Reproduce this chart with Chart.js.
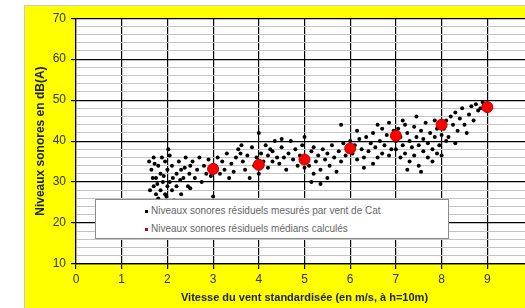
<!DOCTYPE html>
<html>
<head>
<meta charset="utf-8">
<script src="https://cdn.jsdelivr.net/npm/chart.js@4"></script>
<style>
  html, body { margin: 0; padding: 0; background: #fff; overflow: hidden; width: 525px; height: 308px; }
  #frame { position: absolute; left: 24px; top: 5px; width: 520px; height: 302px;
           background: #ffff00; border-top: 1px solid #c8c8c8; border-left: 1px solid #c8c8c8; }
  #frame canvas { position: absolute; left: 0; top: 0; }
  #legend { position: absolute; left: 95px; top: 199px; width: 352px; height: 38px;
            background: #fff; border: 1px solid #8a8a8a; font: 10px Arial, "Liberation Sans", sans-serif; color: #666; }
  .row { position: absolute; left: 49px; white-space: nowrap; line-height: 12px; }
  .mk { display: inline-block; width: 3px; height: 3px; margin-right: 3px; vertical-align: middle; }
</style>
</head>
<body>
<div id="frame"><canvas id="chart" width="520" height="302"></canvas></div>
<div id="legend">
  <div class="row" style="top:5px"><span class="mk" style="background:#000"></span>Niveaux sonores résiduels mesurés par vent de Cat</div>
  <div class="row" style="top:23px"><span class="mk" style="background:#b0003a"></span>Niveaux sonores résiduels médians calculés</div>
</div>
<script>
// axis ranges and labels
const xTitle = "Vitesse du vent standardisée (en m/s, à h=10m)";
const yTitle = "Niveaux sonores en dB(A)";
const legendMeasured = "Niveaux sonores résiduels mesurés par vent de Cat";
const legendMedian = "Niveaux sonores résiduels médians calculés";

// medians per wind class
const medianSpeed = [3, 4, 5, 6, 7, 8, 9];
const medianLevel = [33.2, 34.2, 35.5, 38.2, 41.3, 44, 48.3];

const measured = [
  [1.6,35],[1.65,33],[1.7,36],[1.7,29],[1.75,27],[1.75,31],[1.8,34],[1.8,26],[1.85,28],[1.85,32],
  [1.9,30],[1.9,25],[1.95,27],[1.95,35],[2.0,29],[2.0,33],[1.62,28],[1.68,31],[1.72,34.5],[1.78,29.5],
  [1.82,24.5],[1.88,36],[1.92,31.5],[1.98,26.5],
  [2.05,36.5],[2.05,30],[2.1,28],[2.1,34],[2.15,25.5],[2.2,32],[2.2,29],[2.25,35],[2.3,27],[2.3,33],
  [2.35,31],[2.4,36],[2.45,29],[2.5,34],[2.5,28.5],[2.02,38],[2.12,31],[2.28,30.5],[2.38,33.5],[2.48,32],
  [2.55,35],[2.6,31],[2.65,33],[2.7,36],[2.75,30],[2.8,34],[2.85,32],[2.9,35.5],[2.95,31.5],[3.0,26.5],
  [3.05,34],[3.1,36],[3.15,32],[3.2,35],[3.25,33],[3.3,37],[3.35,31],[3.4,34.5],[3.45,32.5],[3.5,36],
  [3.55,38],[3.6,37],[3.62,39],[3.65,35],[3.7,33],[3.75,36.5],[3.8,31],[3.85,38.5],[3.9,34],[3.95,36],
  [4.0,42],[4.0,32],
  [4.05,37],[4.1,35],[4.15,39],[4.2,36.5],[4.25,38],[4.3,37.5],[4.3,35],[4.35,40],[4.4,36],[4.45,34.5],
  [4.5,38.5],[4.55,36],[4.6,33],[4.65,37],[4.7,40],[4.75,35.5],[4.8,38],[4.85,34],[4.9,36.5],[4.95,39],
  [5.0,33.5],[4.5,40.5],[4.2,33.5],[5.0,41],
  [5.05,36],[5.1,34],[5.15,37.5],[5.2,32],[5.2,38.5],[5.25,35],[5.3,36.5],[5.35,33],[5.4,38],[5.45,35.5],
  [5.5,31],[5.5,37],[5.55,34],[5.6,39],[5.65,36],[5.7,32.5],[5.75,37.5],[5.8,44],[5.8,35],[5.85,39.5],
  [5.9,36.5],[5.95,38],[6.0,40],[5.15,30],[5.35,29.5],
  [6.05,37],[6.1,39],[6.15,35.5],[6.2,40.5],[6.25,38],[6.3,36],[6.35,41],[6.4,37.5],[6.45,39.5],[6.5,34.5],
  [6.5,42],[6.55,38.5],[6.6,36],[6.65,40],[6.7,43],[6.7,37],[6.75,39],[6.8,41.5],[6.85,36.5],[6.9,38],
  [6.95,42.5],[7.0,40],[6.3,33.5],[6.6,44],[6.85,44.5],[6.15,42.5],
  [7.0,38],[7.05,43],[7.1,36],[7.1,41],[7.15,39],[7.2,44],[7.2,37],[7.25,42],[7.3,35],[7.3,40],
  [7.35,38.5],[7.4,43.5],[7.4,36.5],[7.45,41],[7.5,39],[7.5,34],[7.55,42.5],[7.6,37.5],[7.6,40.5],[7.65,44.5],
  [7.7,36],[7.7,39.5],[7.75,42],[7.8,38],[7.8,35],[7.85,41],[7.9,37],[7.9,43],[7.95,39],[8.0,36.5],
  [8.0,41.5],[7.25,33],[7.55,32.5],[7.15,45],[7.45,46],[7.85,45],
  [8.05,43],[8.1,45],[8.15,41],[8.2,46],[8.25,44],[8.3,47],[8.35,42.5],[8.4,45.5],[8.45,48],[8.5,44],
  [8.55,42],[8.6,46.5],[8.65,48.5],[8.7,45],[8.75,49],[8.8,47.5],[8.1,40],[8.3,39.5],[8.9,49.5],[8.85,48]
];

const ctx = document.getElementById("chart");
const font = "Arial, 'Liberation Sans', sans-serif";

new Chart(ctx, {
  type: "scatter",
  data: {
    datasets: [
      {
        label: legendMedian,
        data: medianSpeed.map((x, i) => ({ x: x, y: medianLevel[i] })),
        backgroundColor: "#ff0000",
        borderColor: "#c00000",
        borderWidth: 1,
        pointRadius: 5.5,
      },
      {
        label: legendMeasured,
        data: measured.map((p) => ({ x: p[0], y: p[1] })),
        backgroundColor: "#000",
        borderColor: "#000",
        pointRadius: 2,
        borderWidth: 0,
      },
    ],
  },
  options: {
    responsive: false,
    animation: false,
    layout: { padding: { top: 6, right: 12, left: 0, bottom: 0 } },
    plugins: { legend: { display: false }, tooltip: { enabled: false } },
    scales: {
      x: {
        type: "linear",
        min: 0,
        max: 10,
        afterFit: (s) => { s.height = 44; },
        ticks: { stepSize: 1, color: "#333", padding: 3, font: { family: font, size: 12 } },
        grid: { color: "#000", lineWidth: 1.2, tickLength: 5, tickColor: "#000" },
        border: { color: "#000", width: 1.2 },
        title: {
          display: true,
          text: xTitle,
          color: "#222",
          padding: { top: 4, bottom: 3 },
          font: { family: font, size: 11, weight: "bold" },
        },
      },
      y: {
        min: 10,
        max: 70,
        afterFit: (s) => { s.width = 51; },
        ticks: {
          stepSize: 2,
          autoSkip: false,
          padding: 5,
          color: "#333",
          font: { family: font, size: 12 },
          callback: (v) => (v % 10 === 0 ? v : ""),
        },
        grid: {
          color: (c) => (c.tick && c.tick.value % 10 === 0 ? "#000" : "#c4c4c4"),
          lineWidth: (c) => (c.tick && c.tick.value % 10 === 0 ? 1.2 : 1),
          tickColor: (c) => (c.tick && c.tick.value % 10 === 0 ? "#000" : "rgba(0,0,0,0)"),
          tickLength: 5,
        },
        border: { color: "#000", width: 1.2 },
        title: {
          display: true,
          text: yTitle,
          color: "#222",
          padding: { top: 8, bottom: 0 },
          font: { family: font, size: 12, weight: "bold" },
        },
      },
    },
  },
  plugins: [
    {
      id: "plotBg",
      beforeDraw(chart) {
        const a = chart.chartArea;
        chart.ctx.save();
        chart.ctx.fillStyle = "#fff";
        chart.ctx.fillRect(a.left, a.top, a.right - a.left, a.bottom - a.top);
        chart.ctx.restore();
      },
    },
  ],
});
</script>
</body>
</html>
